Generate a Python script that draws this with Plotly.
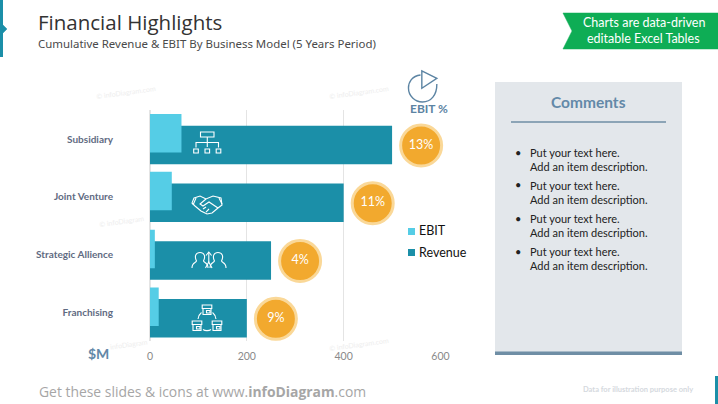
import plotly.graph_objects as go

W = 718
H = 404

# data
categories = ["Subsidiary", "Joint Venture", "Strategic Allience", "Franchising"]
revenue = [500, 400, 250, 200]
ebit = [65, 45, 10, 18]
ebit_pct = ["13%", "11%", "4%", "9%"]
x_ticks = [0, 200, 400, 600]
comments = ["Put your text here.<br>Add an item description."] * 4

TEAL = "#1b8fa8"
LIGHT = "#55cde6"
ORANGE = "#f2a92e"
STEEL = "#6389a8"


# page pixels -> paper coords (margins are zero so paper is the whole page)
def px(x):
    return x / W


def py(y):
    return 1 - y / H


def path(pts, close=False):
    s = "M" + " L".join(f"{px(x):.4f},{py(y):.4f}" for x, y in pts)
    return s + (" Z" if close else "")


def curve(start, *segs):
    # segs are (c1, c2, end) triples of pixel points
    s = f"M{px(start[0]):.4f},{py(start[1]):.4f}"
    for seg in segs:
        s += " C" + " ".join(f"{px(a):.4f},{py(b):.4f}" for a, b in seg)
    return s


shapes = []


def line_shape(d, color="white", width=1.1, fill=None):
    shapes.append(dict(type="path", path=d, xref="paper", yref="paper", layer="above",
                       line=dict(color=color, width=width),
                       fillcolor=fill if fill else "rgba(0,0,0,0)"))


def rect(x0, y0, x1, y1, fill=None, color="white", width=1.1, layer="above"):
    shapes.append(dict(type="rect", xref="paper", yref="paper", layer=layer,
                       x0=px(x0), x1=px(x1), y0=py(y0), y1=py(y1),
                       fillcolor=fill if fill else "rgba(0,0,0,0)",
                       line=dict(color=color, width=width if color else 0)))


def solid(x0, y0, x1, y1, fill):
    shapes.append(dict(type="rect", xref="paper", yref="paper", layer="below",
                       x0=px(x0), x1=px(x1), y0=py(y0), y1=py(y1),
                       fillcolor=fill, line=dict(width=0)))


# page furniture
solid(0, 0, 3, 57, TEAL)
line_shape(path([(2, 24), (7, 29), (2, 34)], True), TEAL, 0.5, TEAL)
solid(715, 376, 718, 404, TEAL)
solid(495, 82, 682, 353, "#e3e7eb")
solid(495, 351.5, 682, 355, "#6f8ea5")
solid(511, 121.3, 666, 122.8, "#6f8ea5")
line_shape(path([(563, 13), (718, 13), (718, 49), (563, 49), (572, 31)], True), "#0ead55", 0.5, "#0ead55")

# legend swatches
solid(408, 228, 415, 235, LIGHT)
solid(408, 249, 415, 256, TEAL)

# org chart icon
rect(200.5, 132, 214, 137)
line_shape(path([(207.3, 137), (207.3, 147)]))
line_shape(path([(196, 147.5), (196, 142.5), (218.5, 142.5), (218.5, 147.5)]))
for x in [196, 207.3, 218.5]:
    rect(x - 2.3, 149, x + 2.3, 153)

# handshake icon
line_shape(path([(194, 198), (200, 196), (206, 199), (213, 196), (221, 198), (222, 205), (218, 208),
                 (212, 213), (207, 214), (201, 211), (195, 206), (192, 203)], True))
line_shape(path([(206, 199), (200, 204), (203, 206), (209, 202), (218, 208)]))
line_shape(path([(196, 198), (193, 205)]))
line_shape(path([(219, 198), (222, 204)]))
line_shape(path([(203, 209), (206, 207)]))
line_shape(path([(206, 212), (209, 209)]))

# people icon
for cx in [200, 218]:
    line_shape(curve((cx - 8, 268), ((cx - 8, 262), (cx - 4, 263), (cx - 3.5, 261)),
                     ((cx - 6, 256), (cx - 4, 252.5), (cx, 252.5)),
                     ((cx + 4, 252.5), (cx + 6, 256), (cx + 3.5, 261)),
                     ((cx + 4, 263), (cx + 8, 262), (cx + 8, 268))))
line_shape(path([(208.8, 262), (208.8, 252.5)]))
line_shape(path([(206, 255.5), (208.8, 252), (211.6, 255.5)]))
line_shape(path([(205.5, 268), (208.8, 262), (212, 268)]))

# shops icon
for cx, cy in [(207, 310), (197, 326), (217, 326)]:
    rect(cx - 4.8, cy - 5, cx + 4.8, cy - 1.5)
    rect(cx - 4, cy - 1.5, cx + 4, cy + 4.5)
    rect(cx - 0.5, cy + 0.5, cx + 3, cy + 3)
line_shape(curve((198, 319), ((198.5, 316), (199.5, 314), (201.5, 312.5))))
line_shape(curve((216, 319), ((215.5, 316), (214.5, 314), (212.5, 312.5))))
line_shape(curve((203, 329.5), ((205, 331), (209, 331), (211, 329.5))))

# pie icon over "EBIT %"
line_shape(curve((420.5, 75),
                 ((412, 76), (408.5, 82), (408.5, 88)),
                 ((408.5, 96), (415, 102), (422.5, 102)),
                 ((431, 102), (437, 95), (436.8, 84))), "#5c84a3", 1.4)
line_shape(path([(421.8, 71), (436.8, 78.3), (421.8, 88.3)], True), "#5c84a3", 1.4)


def note(text, x, y, size, color, anchor="left", font="Lato", **kw):
    return dict(text=text, x=px(x), y=py(y), xref="paper", yref="paper", showarrow=False,
                xanchor=anchor, yanchor="middle", align=anchor,
                font=dict(size=size, color=color, family=font), **kw)


annotations = [
    note("Financial Highlights", 35.5, 22, 20.5, "#333333", font="Open Sans"),
    note("Cumulative Revenue &amp; EBIT By Business Model (5 Years Period)", 35.5, 43.5, 11.45, "#4a4a4a", font="Noto Sans"),
    note("Charts are data-driven", 643.5, 22, 12.5, "white", "center"),
    note("editable Excel Tables", 643.5, 38.5, 12.5, "white", "center"),
    note("<b>Comments</b>", 588.5, 102, 15.5, STEEL, "center"),
    note("<b>EBIT %</b>", 429, 108, 12, "#5c84a3", "center"),
    note("<b>$M</b>", 98, 353.5, 14, STEEL, "center"),
    note("Get these slides &amp; icons at www.<b>infoDiagram</b>.com", 36.5, 391, 13.9, "#a6a6a6", font="Open Sans"),
    note("<b>Data for illustration purpose only</b>", 695, 389, 7.5, "#d5d9de", "right"),
    note("EBIT", 417, 231, 12.5, "#111111"),
    note("Revenue", 417, 252, 12.5, "#111111"),
]
for i, txt in enumerate(comments):
    y = [159, 192, 225, 258.5][i]
    annotations.append(note("•", 518, y - 7, 11, "#222222", "center"))
    annotations.append(note(txt, 527.5, y, 11, "#222222"))
for x, y, txt in [(126, 92, "© infoDiagram.com"), (359, 92, "© infoDiagram.com"),
                  (122, 221, "© infoDiagram"), (359, 344, "© infoDiagram.com"),
                  (129, 344, "infoDiagram")]:
    annotations.append(note(txt, x, y, 7, "#eeeeee", "center", textangle=-8))

fig = go.Figure()
fig.add_trace(go.Bar(y=list(range(len(categories))), x=revenue, orientation="h", name="Revenue",
                     width=0.666, offset=-0.233, marker=dict(color=TEAL, line=dict(width=0))))
fig.add_trace(go.Bar(y=list(range(len(categories))), x=ebit, orientation="h", name="EBIT",
                     width=0.666, offset=-0.433, marker=dict(color=LIGHT, line=dict(width=0))))
# EBIT % bubbles sit just past the end of each revenue bar
fig.add_trace(go.Scatter(x=[v + 60 for v in revenue], y=[i + 0.11 for i in range(len(categories))],
                         mode="markers+text", text=ebit_pct, textposition="middle center",
                         textfont=dict(color="white", size=12.5, family="Lato"),
                         marker=dict(size=41, color=ORANGE, line=dict(color="#fad898", width=3)),
                         showlegend=False, cliponaxis=False))

fig.update_layout(
    width=W, height=H, margin=dict(l=0, r=0, t=0, b=0), autosize=False,
    paper_bgcolor="white", plot_bgcolor="white", barmode="overlay",
    showlegend=False,
    xaxis=dict(domain=[px(150), px(440.5)], range=[0, 600], tickvals=x_ticks, showgrid=True, automargin=False,
               gridcolor="#e4e4e4", gridwidth=1, zeroline=True, zerolinecolor="#e4e4e4", showline=False,
               ticklabelstandoff=7, tickfont=dict(size=10.5, color="#8a8a8a", family="Lato")),
    yaxis=dict(domain=[py(341.4), py(110.2)], range=[3.5, -0.5], tickmode="array", automargin=False,
               tickvals=list(range(len(categories))), ticktext=[f"<b>{c}</b>" for c in categories],
               showgrid=False, zeroline=False, showline=False, ticklabelstandoff=36,
               tickfont=dict(size=10, color="#5f6b82", family="Lato")),
    shapes=shapes, annotations=annotations,
)

fig.write_html("out.html", config=dict(displayModeBar=False), post_script="document.body.style.margin='0';")
